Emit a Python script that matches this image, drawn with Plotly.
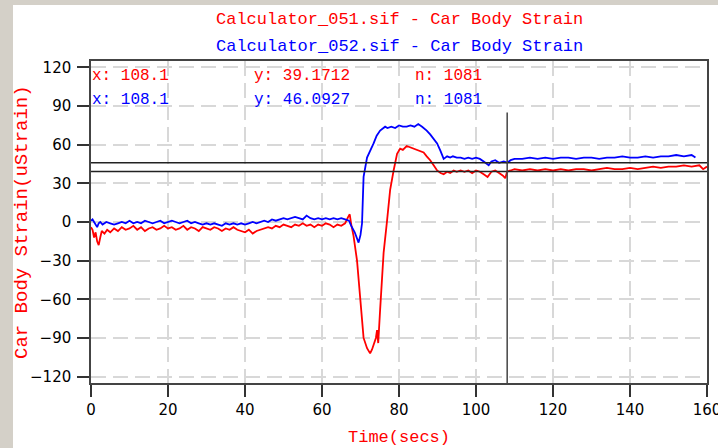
import plotly.graph_objects as go

# ---- data ----
t_red = [0, 0.4, 0.8, 1.2, 1.6, 2.0, 2.4, 2.8, 3.5, 4.2, 5, 6, 7, 8, 9, 10, 11, 12, 13, 14, 15, 16, 17, 18, 19,
         20, 21, 22, 23, 24, 25, 26, 27, 28, 29, 30, 31, 32, 33, 34, 35, 36, 37, 38, 39, 40, 41, 42, 43, 44,
         45, 46, 47, 48, 49, 50, 51, 52, 53, 54, 55, 56, 57, 58, 59, 60, 61, 62, 63, 64, 65, 66, 66.8, 67.2,
         67.6, 68.2, 69.1, 69.9, 70.8, 71.7, 72.5, 73.0, 73.4, 74.0, 74.3, 74.6, 75.1, 75.6, 76.0, 76.9, 77.7,
         78.6, 79.5, 80.3, 81, 82, 83, 84, 85, 86.4, 87.2, 88.1, 89, 89.9, 90.8, 91.6, 92.5, 93.3, 94.2, 95, 96,
         97, 98, 99, 100, 101, 102, 103, 104, 105, 106, 107, 107.6, 108.1, 109, 110, 112, 114, 116, 118, 120,
         122, 124, 126, 128, 130, 132, 134, 136, 138, 140, 142, 144, 146, 148, 150, 152, 154, 156, 158, 159, 160]
v_red = [-4, -6, -12, -8, -15, -18, -12, -7, -9, -6, -8, -5, -7, -4, -6, -5, -3, -6, -4, -7, -5, -4, -6, -5, -3,
         -5, -4, -6, -5, -3, -6, -4, -5, -7, -4, -5, -6, -4, -5, -7, -5, -6, -4, -6, -7, -8, -6, -9, -7, -6,
         -5, -4, -5, -3, -4, -2, -3, -4, -2, -3, -1, -3, -2, -4, -2, -3, -1, -2, -4, -2, -3, -1, 4, 6,
         -2, -11, -30, -58, -90, -98, -102, -99, -96, -90, -84, -94, -68, -45, -24, 1, 25,
         40, 53, 57, 56, 59, 58, 57, 56, 54, 51, 48, 44, 40, 38, 37, 39, 38, 40, 39, 40,
         39, 40, 38, 40, 39, 37, 35, 39, 40, 38, 36, 34, 39.17, 40, 41, 40, 41, 40, 41, 40,
         41, 40, 41, 41, 40, 41, 42, 41, 41, 42, 41, 42, 43, 42, 43, 43, 44, 43, 44, 41, 43]

t_blue = [0, 0.4, 0.8, 1.2, 1.6, 2.0, 2.4, 3, 4, 5, 6, 7, 8, 9, 10, 11, 12, 13, 14, 15, 16, 17, 18, 19, 20,
          21, 22, 23, 24, 25, 26, 27, 28, 29, 30, 31, 32, 33, 34, 35, 36, 37, 38, 39, 40, 41, 42, 43, 44, 45,
          46, 47, 48, 49, 50, 51, 52, 53, 54, 55, 56, 57, 58, 59, 60, 61, 62, 63, 64, 65, 66, 67, 67.6, 68.5,
          69.5, 70.0, 70.4, 70.8, 71.7, 72.5, 73.4, 74.2, 75.1, 76.4, 77, 78, 79, 80, 81, 82, 83, 84, 85, 86,
          87.2, 88.1, 89, 89.9, 90.8, 91.6, 92.5, 93.3, 94, 95, 96, 97, 98, 99, 100, 101, 102, 103.3, 104, 105,
          106, 107.2, 108.1, 109, 110, 112, 114, 116, 118, 120, 122, 124, 126, 128, 130, 132, 134, 136, 138,
          140, 142, 144, 146, 148, 150, 152, 154, 156, 157]
v_blue = [1, 2, 0, -2, -4, -1, 0, -2, 0, -1, -2, -1, 0, -1, 1, -1, 0, -1, 1, 0, -1, 0, 1, -1, 0,
          1, 0, -1, 0, 1, -1, 0, -1, -2, -1, -2, -1, -2, -3, -1, -2, -1, -2, -1, -2, -1, 0, -1, 0, 1,
          0, 2, 1, 2, 3, 2, 3, 4, 3, 2, 5, 3, 2, 3, 2, 3, 2, 3, 2, 3, 2, 1, -3, -8,
          -16, -10, -1, 35, 50, 55, 61, 67, 71, 74, 73, 74, 73, 75, 74, 74, 75, 74, 76, 74,
          71, 68, 64, 61, 55, 49, 51, 50, 51, 50, 50, 49, 50, 49, 50, 49, 47, 44, 47, 48,
          46, 47, 46.09, 48, 49, 49, 50, 49, 50, 49, 50, 50, 49, 50, 50, 49, 50, 50, 51,
          50, 50, 51, 50, 51, 51, 52, 51, 52, 50]

x_ticks = [0, 20, 40, 60, 80, 100, 120, 140, 160]
y_ticks = [-120, -90, -60, -30, 0, 30, 60, 90, 120]

cursor_x = 108.1
cursor_y_red = 39.1712
cursor_y_blue = 46.0927
n_points = 1081

title_red = "Calculator_051.sif - Car Body Strain"
title_blue = "Calculator_052.sif - Car Body Strain"
x_title = "Time(secs)"
y_title = "Car Body Strain(uStrain)"

RED = "#ff0000"
BLUE = "#0000ff"
MONO = "Liberation Mono, Courier New, monospace"

fig = go.Figure()
fig.add_trace(go.Scatter(x=t_red, y=v_red, mode="lines", line=dict(color=RED, width=1.8),
                         showlegend=False, hoverinfo="skip"))
fig.add_trace(go.Scatter(x=t_blue, y=v_blue, mode="lines", line=dict(color=BLUE, width=1.8),
                         showlegend=False, hoverinfo="skip"))

# cursor lines
for yv in (cursor_y_blue, cursor_y_red):
    fig.add_shape(type="line", xref="x", yref="y", x0=0, x1=160, y0=yv, y1=yv,
                  line=dict(color="#222222", width=1.5), layer="above")
fig.add_shape(type="line", xref="x", yref="y", x0=cursor_x, x1=cursor_x, y0=-125, y1=85,
              line=dict(color="#444444", width=1.5), layer="above")

# white panel over the grey window border
fig.add_shape(type="rect", xref="paper", yref="paper", x0=-0.1266, x1=1.2, y0=-0.4, y1=1.1739,
              line=dict(width=0), fillcolor="white", layer="below")

# titles
fig.add_annotation(text=title_red, xref="paper", yref="paper", x=0.5, y=1.1304, xanchor="center",
                   yanchor="middle", showarrow=False, font=dict(family=MONO, size=17, color=RED))
fig.add_annotation(text=title_blue, xref="paper", yref="paper", x=0.5, y=1.0435, xanchor="center",
                   yanchor="middle", showarrow=False, font=dict(family=MONO, size=17, color=BLUE))

# cursor readouts
rows = [(RED, cursor_y_red, 0.9534), (BLUE, cursor_y_blue, 0.8789)]
for col, yv, yp in rows:
    for xp, txt in ((-0.002, f"x: {cursor_x}"), (0.261, f"y: {yv}"), (0.5226, f"n: {n_points}")):
        fig.add_annotation(text=txt, xref="paper", yref="paper", x=xp, y=yp, xanchor="left",
                           yanchor="middle", showarrow=False, font=dict(family=MONO, size=16, color=col))

# axis titles
fig.add_annotation(text=x_title, xref="paper", yref="paper", x=0.5, y=-0.1708, xanchor="center",
                   yanchor="middle", showarrow=False, font=dict(family=MONO, size=17, color=RED))
fig.add_annotation(text=y_title, xref="paper", yref="paper", x=-0.112, y=0.5, xanchor="center",
                   yanchor="middle", textangle=-90, showarrow=False,
                   font=dict(family=MONO, size=19, color=RED))

grid = dict(showgrid=True, gridcolor="#d8d8d8", gridwidth=1.5, griddash="15px,7px")
tfont = dict(family="DejaVu Sans", size=15, color="black")
fig.update_xaxes(range=[0, 160.0001], tickvals=x_ticks, ticks="outside", ticklen=12, tickwidth=1.5,
                 tickcolor="#333333", showline=True, linecolor="#444444", linewidth=1.5, mirror=True,
                 zeroline=False, tickfont=tfont, ticklabeloverflow="allow", automargin=False, **grid)
fig.update_yaxes(range=[-125, 125], tickvals=y_ticks, ticks="outside", ticklen=12, tickwidth=1.5,
                 tickcolor="#333333", showline=True, linecolor="#444444", linewidth=1.5, mirror=True,
                 zeroline=False, tickfont=tfont, ticklabelstandoff=3, automargin=False, **grid)

fig.update_layout(width=718, height=448, margin=dict(l=91, r=11, t=61, b=65, autoexpand=False),
                  paper_bgcolor="#d4d0c8", plot_bgcolor="white", showlegend=False)

fig.write_html("out.html")
